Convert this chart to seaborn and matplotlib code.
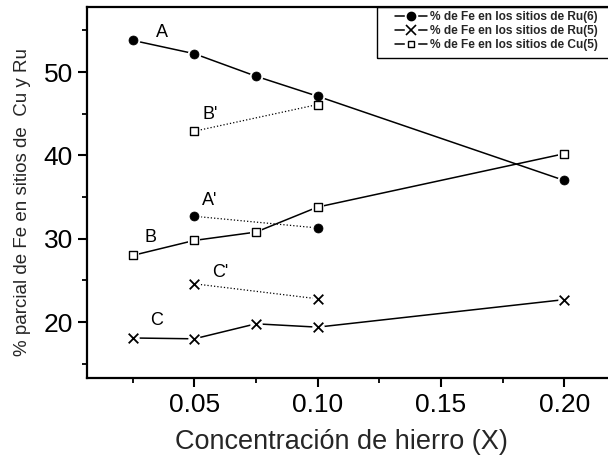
import matplotlib
matplotlib.use("Agg")
import matplotlib.pyplot as plt
import numpy as np
import pandas as pd
import seaborn as sns
from matplotlib.lines import Line2D
from matplotlib.patches import Rectangle
from matplotlib.legend_handler import HandlerTuple
from matplotlib.ticker import MultipleLocator

# Iron concentration (X) and partial % of Fe on each site type
x_main = [0.025, 0.05, 0.075, 0.10, 0.20]
ru6 = [53.8, 52.2, 49.5, 47.1, 37.0]      # A
ru5 = [18.1, 18.0, 19.8, 19.4, 22.7]      # C
cu5 = [28.0, 29.8, 30.8, 33.8, 40.2]      # B

x_prime = [0.05, 0.10]
ru6_p = [32.7, 31.3]                      # A'
cu5_p = [42.9, 46.1]                      # B'
ru5_p = [24.6, 22.8]                      # C'

series_keys = ["ru6", "ru5", "cu5"]
series_labels = ["% de Fe en los sitios de Ru(6)",
                 "% de Fe en los sitios de Ru(5)",
                 "% de Fe en los sitios de Cu(5)"]
curve_names = ["A", "B'", "A'", "B", "C'", "C"]
curve_pos_x = [0.0368, 0.0564, 0.0564, 0.0324, 0.0607, 0.0348]
curve_pos_y = [54.8, 44.85, 34.65, 30.2, 26.0, 20.2]

sns.set_theme(style="ticks")
plt.rcParams["font.family"] = ["Liberation Sans", "DejaVu Sans"]

W, H = 608, 458
fig = plt.figure(figsize=(W / 100, H / 100), dpi=100)
left, bottom, top = 87, 378, 7
ax_w = 540
ax = fig.add_axes([left / W, 1 - bottom / H, ax_w / W, (bottom - top) / H])

main = pd.DataFrame({"x": x_main, "ru6": ru6, "ru5": ru5, "cu5": cu5})
prime = pd.DataFrame({"x": x_prime, "ru6": ru6_p, "ru5": ru5_p, "cu5": cu5_p})

marker_style = {
    "ru6": dict(marker="o", s=42, color="black", edgecolor="black", linewidth=0.5),
    "ru5": dict(marker="x", s=48, color="black", linewidth=1.3),
    "cu5": dict(marker="s", s=26, color="white", edgecolor="black", linewidth=1.0),
}
# white backing so the connecting lines stop short of each symbol
halo_style = {
    "ru6": dict(marker="o", s=95, color="white", linewidth=0),
    "ru5": dict(marker="o", s=80, color="white", linewidth=0),
    "cu5": dict(marker="s", s=70, color="white", linewidth=0),
}

for key in series_keys:
    for df, ls, lw in [(main, "-", 1.1), (prime, ":", 0.9)]:
        sns.lineplot(data=df, x="x", y=key, ax=ax, color="black", linewidth=lw,
                     linestyle=ls, legend=False, zorder=2)
        sns.scatterplot(data=df, x="x", y=key, ax=ax, legend=False, zorder=3,
                        **halo_style[key])
        sns.scatterplot(data=df, x="x", y=key, ax=ax, legend=False, zorder=4,
                        **marker_style[key])

for name, tx, ty in zip(curve_names, curve_pos_x, curve_pos_y):
    ax.text(tx, ty, name, fontsize=13, ha="center", va="center", color="black")

x0 = 0.0065
ax.set_xlim(x0, x0 + ax_w / 2466)
ax.set_ylim(13.3, 57.8)
ax.set_xticks([0.05, 0.10, 0.15, 0.20])
ax.set_xticklabels(["0.05", "0.10", "0.15", "0.20"])
ax.xaxis.set_minor_locator(MultipleLocator(0.025))
ax.yaxis.set_major_locator(MultipleLocator(10))
ax.yaxis.set_minor_locator(MultipleLocator(5))
ax.tick_params(axis="both", which="major", direction="out", length=6.5,
               width=1.5, labelsize=19, color="black", labelcolor="black")
ax.tick_params(axis="x", which="major", pad=4)
ax.tick_params(axis="y", which="major", pad=3.5)
ax.tick_params(axis="both", which="minor", direction="out", length=3.5,
               width=1.3, color="black")

for side in ["left", "bottom", "top"]:
    ax.spines[side].set_linewidth(1.6)
    ax.spines[side].set_color("black")
ax.spines["right"].set_visible(False)

ax.set_xlabel("Concentración de hierro (X)", fontsize=19.5)
ax.xaxis.set_label_coords((341 - left) / ax_w, -(429 - bottom) / (bottom - top))
ax.set_ylabel("% parcial de Fe en sitios de  Cu y Ru", fontsize=13.5)
ax.yaxis.set_label_coords(-(left - 31) / ax_w, (bottom - 202) / (bottom - top))

# legend: line broken around the symbol
handles = []
for key in series_keys:
    line = Line2D([], [], color="black", linewidth=1.1)
    gap = Line2D([], [], linestyle="none", marker="s", markersize=8.5,
                 markerfacecolor="white", markeredgecolor="white")
    if key == "ru6":
        sym = Line2D([], [], linestyle="none", marker="o", markersize=6,
                     markerfacecolor="black", markeredgecolor="black")
    elif key == "ru5":
        sym = Line2D([], [], linestyle="none", marker="x", markersize=6.5,
                     markeredgewidth=1.2, markeredgecolor="black")
    else:
        sym = Line2D([], [], linestyle="none", marker="s", markersize=5,
                     markerfacecolor="white", markeredgecolor="black",
                     markeredgewidth=1.0)
    handles.append((line, gap, sym))

leg = fig.legend(handles, series_labels, loc="upper left",
                 bbox_to_anchor=(395 / W, 1 - 11 / H),
                 handler_map={tuple: HandlerTuple(ndivide=1, pad=0)},
                 prop={"size": 8.6, "weight": "bold"}, frameon=False,
                 handlelength=2.7, handletextpad=0.2, labelspacing=0.18,
                 borderpad=0, borderaxespad=0)

fig.patches.append(Rectangle((377 / W, 1 - 58 / H), 1.0, 51 / H,
                             transform=fig.transFigure, fill=False,
                             edgecolor="black", linewidth=1.0, zorder=5))

fig.savefig("out.png", dpi=100)
